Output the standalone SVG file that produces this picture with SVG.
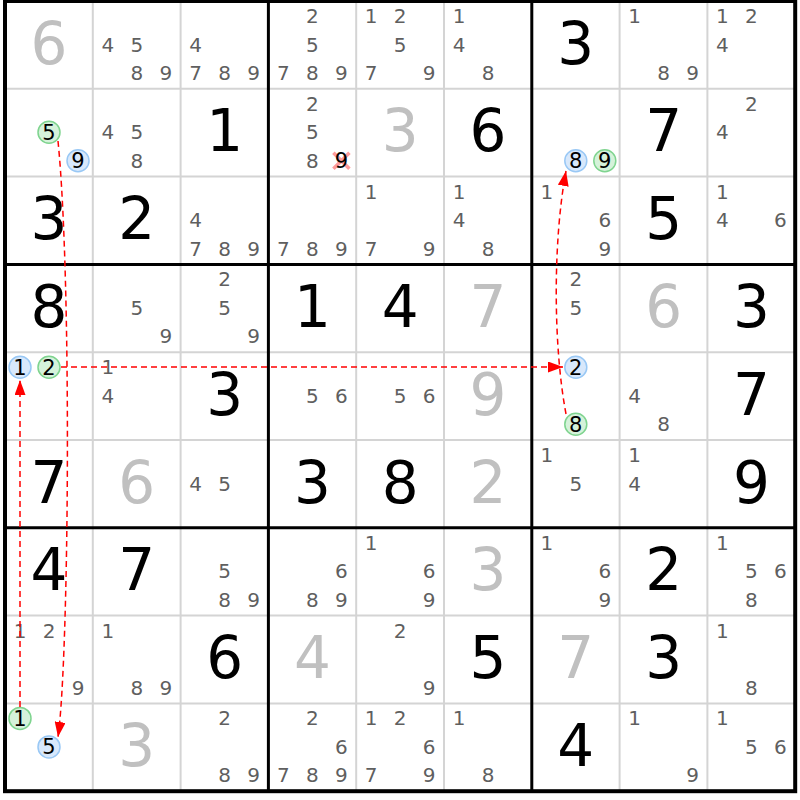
<svg xmlns="http://www.w3.org/2000/svg" width="800" height="800" viewBox="0 0 800 800">
<style>
text{font-family:"DejaVu Sans",Verdana,sans-serif;text-anchor:middle}
.b{font-size:58px;fill:#000}
.v{font-size:58px;fill:#c0c0c0}
.c{font-size:20px;fill:#5f5f5f}
.k{font-size:21px;fill:#000}
.thin{stroke:#d4d4d4;stroke-width:2}
.thick{stroke:#000;stroke-width:3}
.bl{fill:#d8e8fb;stroke:#99c8f5;stroke-width:1.5}
.gr{fill:#d5f2da;stroke:#7fd48f;stroke-width:1.5}
.arr{fill:none;stroke:#ff0000;stroke-width:1.5;stroke-dasharray:6,4}
</style>
<defs>
<marker id="ah" markerUnits="userSpaceOnUse" markerWidth="15" markerHeight="11" refX="15" refY="5.5" orient="auto"><path d="M0,0 L15,5.5 L0,11 z" fill="#ff0000"/></marker>
</defs>
<rect width="800" height="800" fill="#fff"/>
<g id="grid">
<g class="thin">
<line x1="92.8" y1="1" x2="92.8" y2="791.2"/><line x1="180.6" y1="1" x2="180.6" y2="791.2"/>
<line x1="356.2" y1="1" x2="356.2" y2="791.2"/><line x1="444" y1="1" x2="444" y2="791.2"/>
<line x1="619.6" y1="1" x2="619.6" y2="791.2"/><line x1="707.4" y1="1" x2="707.4" y2="791.2"/>
<line x1="5" y1="88.8" x2="795.2" y2="88.8"/><line x1="5" y1="176.6" x2="795.2" y2="176.6"/>
<line x1="5" y1="352.2" x2="795.2" y2="352.2"/><line x1="5" y1="440" x2="795.2" y2="440"/>
<line x1="5" y1="615.6" x2="795.2" y2="615.6"/><line x1="5" y1="703.4" x2="795.2" y2="703.4"/>
</g>
<g class="thick">
<line x1="268.4" y1="1" x2="268.4" y2="791.2"/><line x1="531.8" y1="1" x2="531.8" y2="791.2"/>
<line x1="5" y1="264.4" x2="795.2" y2="264.4"/><line x1="5" y1="527.8" x2="795.2" y2="527.8"/>
</g>
<rect x="5" y="1" width="790.2" height="790.2" fill="none" stroke="#000" stroke-width="4"/>
</g>
<!-- Row 0 -->
<g id="r0c0" transform="translate(5,1)"><text class="v" x="44" y="62.5">6</text></g>
<g id="r0c1" transform="translate(92.8,1)"><text class="c" x="15" y="50.5">4</text><text class="c" x="44" y="50.5">5</text><text class="c" x="44" y="79">8</text><text class="c" x="73" y="79">9</text></g>
<g id="r0c2" transform="translate(180.6,1)"><text class="c" x="15" y="50.5">4</text><text class="c" x="15" y="79">7</text><text class="c" x="44" y="79">8</text><text class="c" x="73" y="79">9</text></g>
<g id="r0c3" transform="translate(268.4,1)"><text class="c" x="44" y="22">2</text><text class="c" x="44" y="50.5">5</text><text class="c" x="15" y="79">7</text><text class="c" x="44" y="79">8</text><text class="c" x="73" y="79">9</text></g>
<g id="r0c4" transform="translate(356.2,1)"><text class="c" x="15" y="22">1</text><text class="c" x="44" y="22">2</text><text class="c" x="44" y="50.5">5</text><text class="c" x="15" y="79">7</text><text class="c" x="73" y="79">9</text></g>
<g id="r0c5" transform="translate(444,1)"><text class="c" x="15" y="22">1</text><text class="c" x="15" y="50.5">4</text><text class="c" x="44" y="79">8</text></g>
<g id="r0c6" transform="translate(531.8,1)"><text class="b" x="44" y="62.5">3</text></g>
<g id="r0c7" transform="translate(619.6,1)"><text class="c" x="15" y="22">1</text><text class="c" x="44" y="79">8</text><text class="c" x="73" y="79">9</text></g>
<g id="r0c8" transform="translate(707.4,1)"><text class="c" x="15" y="22">1</text><text class="c" x="44" y="22">2</text><text class="c" x="15" y="50.5">4</text></g>
<!-- Row 1 -->
<g id="r1c0" transform="translate(5,88.8)"><circle class="gr" cx="44" cy="43.5" r="11"/><text class="k" x="44" y="51">5</text><circle class="bl" cx="73" cy="72" r="11"/><text class="k" x="73" y="79.5">9</text></g>
<g id="r1c1" transform="translate(92.8,88.8)"><text class="c" x="15" y="50.5">4</text><text class="c" x="44" y="50.5">5</text><text class="c" x="44" y="79">8</text></g>
<g id="r1c2" transform="translate(180.6,88.8)"><text class="b" x="44" y="62.5">1</text></g>
<g id="r1c3" transform="translate(268.4,88.8)"><text class="c" x="44" y="22">2</text><text class="c" x="44" y="50.5">5</text><text class="c" x="44" y="79">8</text><path d="M65,64 L81,80 M81,64 L65,80" stroke="#ff8a8a" stroke-width="3.5" opacity="0.85"/><text class="k" x="73" y="79.5">9</text></g>
<g id="r1c4" transform="translate(356.2,88.8)"><text class="v" x="44" y="62.5">3</text></g>
<g id="r1c5" transform="translate(444,88.8)"><text class="b" x="44" y="62.5">6</text></g>
<g id="r1c6" transform="translate(531.8,88.8)"><circle class="bl" cx="44" cy="72" r="11"/><text class="k" x="44" y="79.5">8</text><circle class="gr" cx="73" cy="72" r="11"/><text class="k" x="73" y="79.5">9</text></g>
<g id="r1c7" transform="translate(619.6,88.8)"><text class="b" x="44" y="62.5">7</text></g>
<g id="r1c8" transform="translate(707.4,88.8)"><text class="c" x="44" y="22">2</text><text class="c" x="15" y="50.5">4</text></g>
<!-- Row 2 -->
<g id="r2c0" transform="translate(5,176.6)"><text class="b" x="44" y="62.5">3</text></g>
<g id="r2c1" transform="translate(92.8,176.6)"><text class="b" x="44" y="62.5">2</text></g>
<g id="r2c2" transform="translate(180.6,176.6)"><text class="c" x="15" y="50.5">4</text><text class="c" x="15" y="79">7</text><text class="c" x="44" y="79">8</text><text class="c" x="73" y="79">9</text></g>
<g id="r2c3" transform="translate(268.4,176.6)"><text class="c" x="15" y="79">7</text><text class="c" x="44" y="79">8</text><text class="c" x="73" y="79">9</text></g>
<g id="r2c4" transform="translate(356.2,176.6)"><text class="c" x="15" y="22">1</text><text class="c" x="15" y="79">7</text><text class="c" x="73" y="79">9</text></g>
<g id="r2c5" transform="translate(444,176.6)"><text class="c" x="15" y="22">1</text><text class="c" x="15" y="50.5">4</text><text class="c" x="44" y="79">8</text></g>
<g id="r2c6" transform="translate(531.8,176.6)"><text class="c" x="15" y="22">1</text><text class="c" x="73" y="50.5">6</text><text class="c" x="73" y="79">9</text></g>
<g id="r2c7" transform="translate(619.6,176.6)"><text class="b" x="44" y="62.5">5</text></g>
<g id="r2c8" transform="translate(707.4,176.6)"><text class="c" x="15" y="22">1</text><text class="c" x="15" y="50.5">4</text><text class="c" x="73" y="50.5">6</text></g>
<!-- Row 3 -->
<g id="r3c0" transform="translate(5,264.4)"><text class="b" x="44" y="62.5">8</text></g>
<g id="r3c1" transform="translate(92.8,264.4)"><text class="c" x="44" y="50.5">5</text><text class="c" x="73" y="79">9</text></g>
<g id="r3c2" transform="translate(180.6,264.4)"><text class="c" x="44" y="22">2</text><text class="c" x="44" y="50.5">5</text><text class="c" x="73" y="79">9</text></g>
<g id="r3c3" transform="translate(268.4,264.4)"><text class="b" x="44" y="62.5">1</text></g>
<g id="r3c4" transform="translate(356.2,264.4)"><text class="b" x="44" y="62.5">4</text></g>
<g id="r3c5" transform="translate(444,264.4)"><text class="v" x="44" y="62.5">7</text></g>
<g id="r3c6" transform="translate(531.8,264.4)"><text class="c" x="44" y="22">2</text><text class="c" x="44" y="50.5">5</text></g>
<g id="r3c7" transform="translate(619.6,264.4)"><text class="v" x="44" y="62.5">6</text></g>
<g id="r3c8" transform="translate(707.4,264.4)"><text class="b" x="44" y="62.5">3</text></g>
<!-- Row 4 -->
<g id="r4c0" transform="translate(5,352.2)"><circle class="bl" cx="15" cy="15" r="11"/><text class="k" x="15" y="22.5">1</text><circle class="gr" cx="44" cy="15" r="11"/><text class="k" x="44" y="22.5">2</text></g>
<g id="r4c1" transform="translate(92.8,352.2)"><text class="c" x="15" y="22">1</text><text class="c" x="15" y="50.5">4</text></g>
<g id="r4c2" transform="translate(180.6,352.2)"><text class="b" x="44" y="62.5">3</text></g>
<g id="r4c3" transform="translate(268.4,352.2)"><text class="c" x="44" y="50.5">5</text><text class="c" x="73" y="50.5">6</text></g>
<g id="r4c4" transform="translate(356.2,352.2)"><text class="c" x="44" y="50.5">5</text><text class="c" x="73" y="50.5">6</text></g>
<g id="r4c5" transform="translate(444,352.2)"><text class="v" x="44" y="62.5">9</text></g>
<g id="r4c6" transform="translate(531.8,352.2)"><circle class="bl" cx="44" cy="15" r="11"/><text class="k" x="44" y="22.5">2</text><circle class="gr" cx="44" cy="72" r="11"/><text class="k" x="44" y="79.5">8</text></g>
<g id="r4c7" transform="translate(619.6,352.2)"><text class="c" x="15" y="50.5">4</text><text class="c" x="44" y="79">8</text></g>
<g id="r4c8" transform="translate(707.4,352.2)"><text class="b" x="44" y="62.5">7</text></g>
<!-- Row 5 -->
<g id="r5c0" transform="translate(5,440)"><text class="b" x="44" y="62.5">7</text></g>
<g id="r5c1" transform="translate(92.8,440)"><text class="v" x="44" y="62.5">6</text></g>
<g id="r5c2" transform="translate(180.6,440)"><text class="c" x="15" y="50.5">4</text><text class="c" x="44" y="50.5">5</text></g>
<g id="r5c3" transform="translate(268.4,440)"><text class="b" x="44" y="62.5">3</text></g>
<g id="r5c4" transform="translate(356.2,440)"><text class="b" x="44" y="62.5">8</text></g>
<g id="r5c5" transform="translate(444,440)"><text class="v" x="44" y="62.5">2</text></g>
<g id="r5c6" transform="translate(531.8,440)"><text class="c" x="15" y="22">1</text><text class="c" x="44" y="50.5">5</text></g>
<g id="r5c7" transform="translate(619.6,440)"><text class="c" x="15" y="22">1</text><text class="c" x="15" y="50.5">4</text></g>
<g id="r5c8" transform="translate(707.4,440)"><text class="b" x="44" y="62.5">9</text></g>
<!-- Row 6 -->
<g id="r6c0" transform="translate(5,527.8)"><text class="b" x="44" y="62.5">4</text></g>
<g id="r6c1" transform="translate(92.8,527.8)"><text class="b" x="44" y="62.5">7</text></g>
<g id="r6c2" transform="translate(180.6,527.8)"><text class="c" x="44" y="50.5">5</text><text class="c" x="44" y="79">8</text><text class="c" x="73" y="79">9</text></g>
<g id="r6c3" transform="translate(268.4,527.8)"><text class="c" x="73" y="50.5">6</text><text class="c" x="44" y="79">8</text><text class="c" x="73" y="79">9</text></g>
<g id="r6c4" transform="translate(356.2,527.8)"><text class="c" x="15" y="22">1</text><text class="c" x="73" y="50.5">6</text><text class="c" x="73" y="79">9</text></g>
<g id="r6c5" transform="translate(444,527.8)"><text class="v" x="44" y="62.5">3</text></g>
<g id="r6c6" transform="translate(531.8,527.8)"><text class="c" x="15" y="22">1</text><text class="c" x="73" y="50.5">6</text><text class="c" x="73" y="79">9</text></g>
<g id="r6c7" transform="translate(619.6,527.8)"><text class="b" x="44" y="62.5">2</text></g>
<g id="r6c8" transform="translate(707.4,527.8)"><text class="c" x="15" y="22">1</text><text class="c" x="44" y="50.5">5</text><text class="c" x="73" y="50.5">6</text><text class="c" x="44" y="79">8</text></g>
<!-- Row 7 -->
<g id="r7c0" transform="translate(5,615.6)"><text class="c" x="15" y="22">1</text><text class="c" x="44" y="22">2</text><text class="c" x="73" y="79">9</text></g>
<g id="r7c1" transform="translate(92.8,615.6)"><text class="c" x="15" y="22">1</text><text class="c" x="44" y="79">8</text><text class="c" x="73" y="79">9</text></g>
<g id="r7c2" transform="translate(180.6,615.6)"><text class="b" x="44" y="62.5">6</text></g>
<g id="r7c3" transform="translate(268.4,615.6)"><text class="v" x="44" y="62.5">4</text></g>
<g id="r7c4" transform="translate(356.2,615.6)"><text class="c" x="44" y="22">2</text><text class="c" x="73" y="79">9</text></g>
<g id="r7c5" transform="translate(444,615.6)"><text class="b" x="44" y="62.5">5</text></g>
<g id="r7c6" transform="translate(531.8,615.6)"><text class="v" x="44" y="62.5">7</text></g>
<g id="r7c7" transform="translate(619.6,615.6)"><text class="b" x="44" y="62.5">3</text></g>
<g id="r7c8" transform="translate(707.4,615.6)"><text class="c" x="15" y="22">1</text><text class="c" x="44" y="79">8</text></g>
<!-- Row 8 -->
<g id="r8c0" transform="translate(5,703.4)"><circle class="gr" cx="15" cy="15" r="11"/><text class="k" x="15" y="22.5">1</text><circle class="bl" cx="44" cy="43.5" r="11"/><text class="k" x="44" y="51">5</text></g>
<g id="r8c1" transform="translate(92.8,703.4)"><text class="v" x="44" y="62.5">3</text></g>
<g id="r8c2" transform="translate(180.6,703.4)"><text class="c" x="44" y="22">2</text><text class="c" x="44" y="79">8</text><text class="c" x="73" y="79">9</text></g>
<g id="r8c3" transform="translate(268.4,703.4)"><text class="c" x="44" y="22">2</text><text class="c" x="73" y="50.5">6</text><text class="c" x="15" y="79">7</text><text class="c" x="44" y="79">8</text><text class="c" x="73" y="79">9</text></g>
<g id="r8c4" transform="translate(356.2,703.4)"><text class="c" x="15" y="22">1</text><text class="c" x="44" y="22">2</text><text class="c" x="73" y="50.5">6</text><text class="c" x="15" y="79">7</text><text class="c" x="73" y="79">9</text></g>
<g id="r8c5" transform="translate(444,703.4)"><text class="c" x="15" y="22">1</text><text class="c" x="44" y="79">8</text></g>
<g id="r8c6" transform="translate(531.8,703.4)"><text class="b" x="44" y="62.5">4</text></g>
<g id="r8c7" transform="translate(619.6,703.4)"><text class="c" x="15" y="22">1</text><text class="c" x="73" y="79">9</text></g>
<g id="r8c8" transform="translate(707.4,703.4)"><text class="c" x="15" y="22">1</text><text class="c" x="44" y="50.5">5</text><text class="c" x="73" y="50.5">6</text></g>
<g id="connectors">
<path class="arr" d="M20,707 L20,380" marker-end="url(#ah)"/>
<path class="arr" d="M58,141 C72,280 69,660 58,737" marker-end="url(#ah)"/>
<path class="arr" d="M61,367 L563,367" marker-end="url(#ah)"/>
<path class="arr" d="M566,414 C553,345 553,240 566,171" marker-end="url(#ah)"/>
</g>
</svg>
